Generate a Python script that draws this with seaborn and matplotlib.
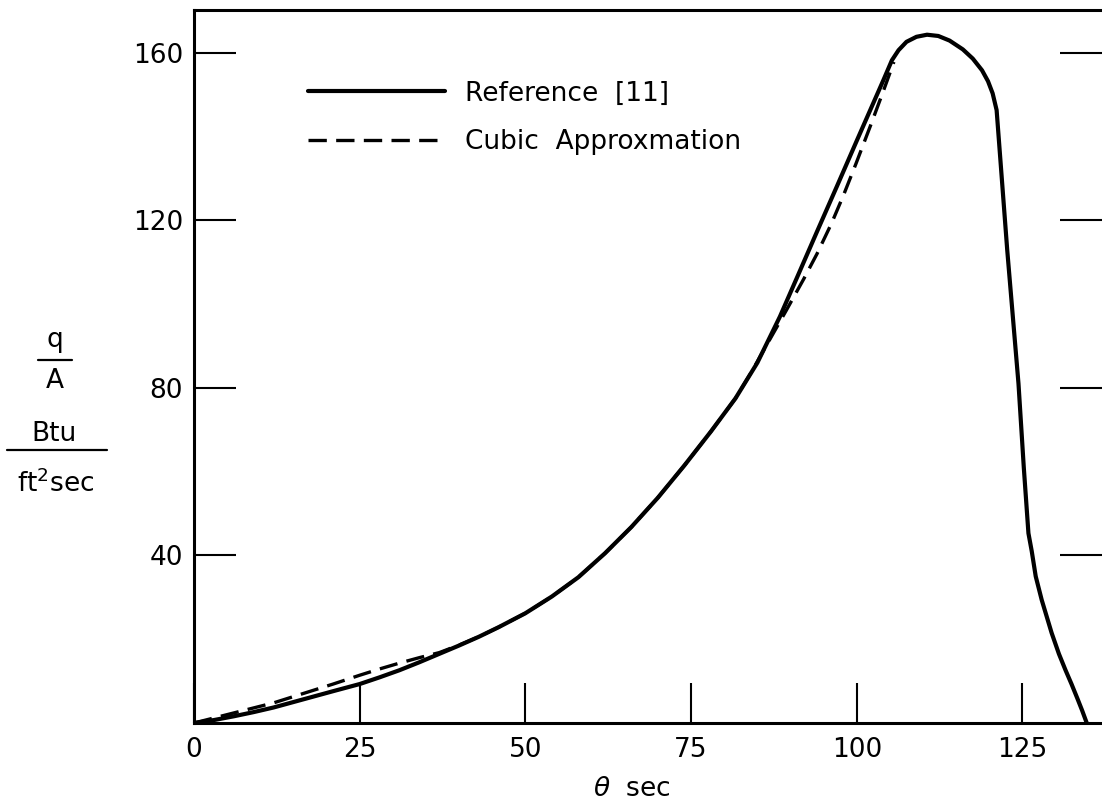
import matplotlib
matplotlib.use("Agg")
import matplotlib.pyplot as plt
import seaborn as sns
import pandas as pd
from matplotlib.lines import Line2D

# --- data ---
ref_theta = [0, 3, 6, 9, 12, 15, 18, 21, 25, 28, 31, 34, 37, 40, 43, 46, 50,
             54, 58, 62, 66, 70, 74, 78, 81.7, 85, 88.4, 91, 94, 97, 100, 102,
             104, 105.3, 106.3, 107.5, 109, 110.6, 112.3, 114, 116, 117.5,
             118.9, 119.8, 120.5, 121.1, 122.7, 124.4, 125.2, 125.9, 126.4,
             127.0, 127.9, 129.4, 130.5, 131.5, 132.4, 133.3, 134, 134.7]
ref_q = [0, 0.7, 1.6, 2.6, 3.7, 5.0, 6.3, 7.6, 9.3, 10.9, 12.6, 14.5, 16.5,
         18.5, 20.6, 22.9, 26.2, 30.2, 34.8, 40.5, 46.8, 53.8, 61.5, 69.6,
         77.5, 86, 97, 106.4, 117.3, 128.1, 139, 146.2, 153.4, 158.2, 160.6,
         162.6, 163.8, 164.3, 164.0, 162.9, 160.8, 158.6, 155.8, 153.2, 150.3,
         146.3, 112.9, 81, 61, 45.3, 41, 35, 29.4, 21.5, 16.5, 12.6, 9.3, 5.8,
         3, 0]

cub_theta = [0, 5, 9, 12, 15, 18, 21, 25, 28, 31, 34, 37, 40, 43, 46, 50, 54,
             58, 62, 66, 70, 74, 78, 81.7, 84, 86.5, 89.4, 92, 94, 96.2, 98,
             99.9, 102, 104, 105.6]
cub_q = [0, 2.0, 3.6, 4.8, 6.3, 7.8, 9.3, 11.4, 12.9, 14.3, 15.6, 16.8, 18.6,
         20.6, 22.9, 26.2, 30.2, 34.8, 40.5, 46.8, 53.8, 61.5, 69.6, 77.5,
         83.5, 90.5, 98.6, 106, 112, 119.3, 126, 133.6, 142.3, 150.8, 157.8]

x_ticks = [0, 25, 50, 75, 100, 125]
y_ticks = [40, 80, 120, 160]
labels = ["Reference  [11]", "Cubic  Approxmation"]

ref = pd.DataFrame({"theta": ref_theta, "q": ref_q})
cub = pd.DataFrame({"theta": cub_theta, "q": cub_q})

sns.set_theme(style="ticks")
plt.rcParams["font.family"] = ["DejaVu Sans"]
plt.rcParams.update({"text.color": "black", "axes.labelcolor": "black",
                     "xtick.color": "black", "ytick.color": "black"})

fig = plt.figure(figsize=(11.02, 8.06), dpi=100)
ax = fig.add_axes([194 / 1102, 83 / 806, 908 / 1102, 713 / 806])

sns.lineplot(data=ref, x="theta", y="q", ax=ax, color="black", lw=3.0,
             sort=False, estimator=None, solid_joinstyle="round")
sns.lineplot(data=cub, x="theta", y="q", ax=ax, color="black", lw=2.4,
             sort=False, estimator=None)
ax.lines[1].set_linestyle((0, (5.5, 2.8)))

ax.set_xlim(0, 137)
ax.set_ylim(0, 170.2)
ax.set_xticks(x_ticks)
ax.set_xticklabels([str(t) for t in x_ticks])
ax.set_yticks(y_ticks)
ax.set_yticklabels([str(t) for t in y_ticks])

ax.tick_params(axis="x", direction="in", length=29, width=1.5, pad=10,
               labelsize=19)
ax.tick_params(axis="y", direction="in", length=30, width=1.5, pad=8,
               labelsize=19, right=True)
ax.spines["right"].set_visible(False)
for s in ["left", "top", "bottom"]:
    ax.spines[s].set_linewidth(2.2)
    ax.spines[s].set_color("black")

ax.set_xlabel(r"$\theta$  sec", fontsize=19)
ax.xaxis.set_label_coords(0.482, -0.093)
ax.xaxis.label.set_va("center")
ax.set_ylabel("")

# stacked fraction for the y label
fig.text(55 / 1102, 1 - 340 / 806, "q", ha="center", va="center", fontsize=19)
fig.text(55 / 1102, 1 - 381 / 806, "A", ha="center", va="center", fontsize=19)
fig.add_artist(Line2D([38 / 1102, 72 / 1102], [1 - 360 / 806] * 2,
                      color="black", lw=1.6))
fig.text(54 / 1102, 1 - 434 / 806, "Btu", ha="center", va="center", fontsize=19)
fig.add_artist(Line2D([7 / 1102, 107 / 1102], [1 - 450 / 806] * 2,
                      color="black", lw=1.6))
fig.text(56 / 1102, 1 - 484 / 806, r"ft$^{\mathregular{2}}$sec", ha="center",
         va="center", fontsize=19)

handles = [Line2D([], [], color="black", lw=3.0),
           Line2D([], [], color="black", lw=2.4, linestyle=(0, (5.5, 2.8)))]
ax.legend(handles, labels, loc="upper left", frameon=False, fontsize=19,
          bbox_to_anchor=(103 / 908, 1 - 60 / 713), handlelength=5.2,
          handletextpad=0.75, labelspacing=0.85, borderaxespad=0)

fig.savefig("out.png", dpi=100, facecolor="white")
